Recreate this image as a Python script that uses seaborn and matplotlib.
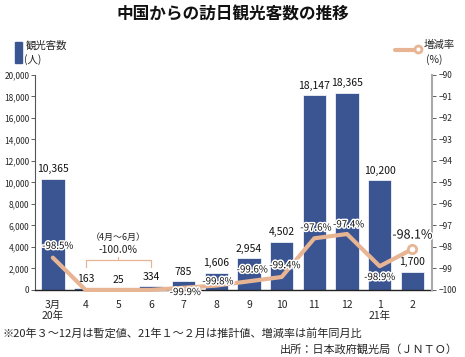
import matplotlib
matplotlib.use("Agg")
import matplotlib.pyplot as plt
import matplotlib.ticker as ticker
import matplotlib.patheffects as pe
from matplotlib.patches import Rectangle
from matplotlib.lines import Line2D
import seaborn as sns
import pandas as pd

# data
months = ["3月\n20年", "4", "5", "6", "7", "8", "9", "10", "11", "12", "1\n21年", "2"]
visitors = [10365, 163, 25, 334, 785, 1606, 2954, 4502, 18147, 18365, 10200, 1700]
rates = [-98.5, -100.0, -100.0, -100.0, -99.9, -99.8, -99.6, -99.4, -97.6, -97.4, -98.9, -98.1]
rate_labels = ["-98.5%", None, None, None, "-99.9%", "-99.8%", "-99.6%", "-99.4%",
               "-97.6%", "-97.4%", "-98.9%", "-98.1%"]

BAR = "#3b5592"
LINE = "#e8b594"

sns.set_theme(style="white")
plt.rcParams['font.family'] = ['Noto Sans CJK JP', 'DejaVu Sans']

df = pd.DataFrame({"month": months, "visitors": visitors, "rate": rates,
                   "pos": range(len(months))})

fig = plt.figure(figsize=(4.65, 3.57), dpi=100)
ax = fig.add_axes([0.075, 0.188, 0.854, 0.602])

sns.barplot(data=df, x="month", y="visitors", color=BAR, width=0.72,
            saturation=1, ax=ax, edgecolor="white", linewidth=0.5)
ax.set_xlim(-0.55, 11.6)
ax.set_ylim(0, 20000)
ax.set_yticks(range(0, 20001, 2000))
ax.yaxis.set_major_formatter(ticker.StrMethodFormatter('{x:,.0f}'))
ax.tick_params(axis='y', labelsize=6, length=3, width=0.6, pad=1, left=True, color="#444444")
ax.tick_params(axis='x', labelsize=7.5, length=0, pad=7)
ax.set_xlabel("")
ax.set_ylabel("")
for s in ["top", "right"]:
    ax.spines[s].set_visible(False)
ax.spines["left"].set_color("#555555")
ax.spines["left"].set_linewidth(0.8)
ax.spines["bottom"].set_color("#222222")
ax.spines["bottom"].set_linewidth(1.0)

for i, v in enumerate(visitors):
    ax.text(i, v + 400, f"{v:,}", ha="center", va="bottom", fontsize=7.5,
            color="#111111", zorder=5)

# bracket for Apr-Jun
bx = [1, 1, 3, 3]
by = [2140, 2790, 2790, 2140]
ax.plot(bx, by, color=LINE, lw=0.9, zorder=4)
ax.plot([2, 2], [2790, 3070], color=LINE, lw=0.9, zorder=4)
ax.text(2, 4850, "（4月～6月）", ha="center", va="center", fontsize=6.5, color="#222222")
ax.text(2, 3750, "-100.0%", ha="center", va="center", fontsize=7.5, color="#222222")

ax2 = ax.twinx()
sns.lineplot(data=df, x="pos", y="rate", color=LINE, lw=3, ax=ax2, clip_on=False,
             zorder=3)
ax2.plot([11], [rates[-1]], marker="o", ms=6, mfc="white", mec=LINE, mew=2,
         clip_on=False, zorder=6)
ax2.set_ylim(-100, -90)
ax2.set_yticks(range(-100, -89))
ax2.tick_params(axis='y', labelsize=6, length=3, width=0.6, pad=2, color="#444444")
ax2.set_xlabel("")
ax2.set_ylabel("")
for s in ["top", "left", "bottom"]:
    ax2.spines[s].set_visible(False)
ax2.spines["right"].set_color("#aaaaaa")
ax2.spines["right"].set_linewidth(1.5)

stroke = [pe.withStroke(linewidth=2.2, foreground="white")]
offsets = {0: (0.15, 0.55), 4: (0.05, -0.2), 5: (0.05, 0.2), 6: (0.1, 0.55),
           7: (0.1, 0.55), 8: (0.05, 0.5), 9: (0.05, 0.45), 10: (0.0, -0.5),
           11: (0.0, 0.65)}
for i, lab in enumerate(rate_labels):
    if lab is None:
        continue
    dx, dy = offsets[i]
    fs = 9 if i == 11 else 7
    ax2.text(i + dx, rates[i] + dy, lab, ha="center", va="center", fontsize=fs,
             color="#111111", path_effects=stroke, zorder=7)

ax.set_zorder(ax2.get_zorder() - 1)
ax2.patch.set_visible(False)

# title
fig.text(0.5, 0.958, "中国からの訪日観光客数の推移", ha="center", va="center",
         fontsize=12, fontweight="bold", color="#111111")

# legends
fig.patches.append(Rectangle((15 / 465, 1 - 63 / 357), 7 / 465, 21 / 357,
                             transform=fig.transFigure, color=BAR))
fig.text(26 / 465, 1 - 46 / 357, "観光客数", fontsize=7.5, va="center", ha="left")
fig.text(24 / 465, 1 - 60 / 357, "(人)", fontsize=7.5, va="center", ha="left")
fig.lines.append(Line2D([395 / 465, 415 / 465], [1 - 50 / 357, 1 - 50 / 357],
                        transform=fig.transFigure, color=LINE, lw=3))
fig.lines.append(Line2D([418 / 465], [1 - 49 / 357], transform=fig.transFigure,
                        marker="o", ms=5, mfc="white", mec=LINE, mew=2))
fig.text(424 / 465, 1 - 45 / 357, "増減率", fontsize=7.5, va="center", ha="left")
fig.text(426 / 465, 1 - 60 / 357, "(%)", fontsize=7.5, va="center", ha="left")

# footer
fig.text(3 / 465, 1 - 333 / 357,
         "※20年３～12月は暫定値、21年１～２月は推計値、増減率は前年同月比",
         fontsize=8, va="center", ha="left")
fig.text(458 / 465, 1 - 349 / 357, "出所：日本政府観光局（ＪＮＴＯ）",
         fontsize=8, va="center", ha="right")

fig.savefig("out.png", dpi=100)
